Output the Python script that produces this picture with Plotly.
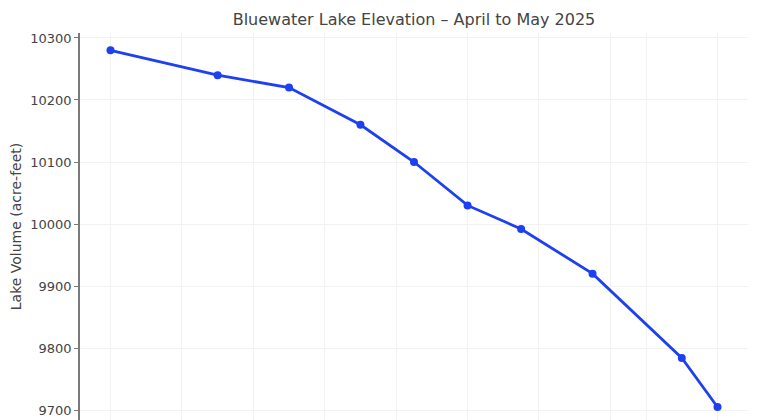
import plotly.graph_objects as go

# Datos
dates = ['2025-04-01', '2025-04-07', '2025-04-11', '2025-04-15', '2025-04-18',
         '2025-04-21', '2025-04-24', '2025-04-28', '2025-05-03', '2025-05-05']
volume = [10280, 10240, 10220, 10160, 10100, 10030, 9992, 9920, 9784, 9705]

# Marcas del eje x (rejilla cada 4 días, como matplotlib)
x_ticks = ['2025-04-01', '2025-04-05', '2025-04-09', '2025-04-13', '2025-04-17',
           '2025-04-21', '2025-04-25', '2025-04-29', '2025-05-01', '2025-05-05']
y_ticks = [9700, 9800, 9900, 10000, 10100, 10200, 10300]

font_color = '#444444'
grid_color = '#f2f2f2'
line_color = '#1c40f2'

fig = go.Figure()

fig.add_trace(go.Scatter(
    x=dates,
    y=volume,
    mode='lines+markers',
    line=dict(color=line_color, width=2.8),
    marker=dict(size=8, color=line_color),
    hovertemplate='<b>%{x}</b><br>Volumen: %{y}<extra></extra>'
))

# La página añade ~8 px de margen al body, se compensa aquí
fig.update_layout(
    width=752,
    height=412,
    paper_bgcolor='white',
    plot_bgcolor='white',
    font=dict(family='DejaVu Sans', color=font_color, size=13),
    margin=dict(l=72, r=12, t=25, b=0, autoexpand=False),
    showlegend=False,
    title=dict(
        text='Bluewater Lake Elevation \u2013 April to May 2025',
        x=(72 + 334) / 752, xanchor='center',
        y=1 - 11 / 412, yanchor='middle',
        font=dict(size=16, color=font_color)
    ),
    xaxis=dict(
        range=['2025-03-30 07:00', '2025-05-06 17:00'],
        tickvals=x_ticks,
        showticklabels=False,
        showgrid=True,
        gridcolor=grid_color,
        gridwidth=1,
        showline=False,
        zeroline=False,
        ticks=''
    ),
    yaxis=dict(
        range=[9684, 10308],
        tickvals=y_ticks,
        ticktext=[str(v) for v in y_ticks],
        showgrid=True,
        gridcolor=grid_color,
        gridwidth=1,
        showline=True,
        linecolor='#7a7a7a',
        linewidth=1.5,
        ticks='outside',
        ticklen=4,
        tickcolor='#7a7a7a',
        zeroline=False,
        tickfont=dict(size=13, color=font_color),
        title=dict(text='Lake Volume (acre-feet)', font=dict(size=14, color=font_color), standoff=9)
    )
)

fig.write_html("out.html")
